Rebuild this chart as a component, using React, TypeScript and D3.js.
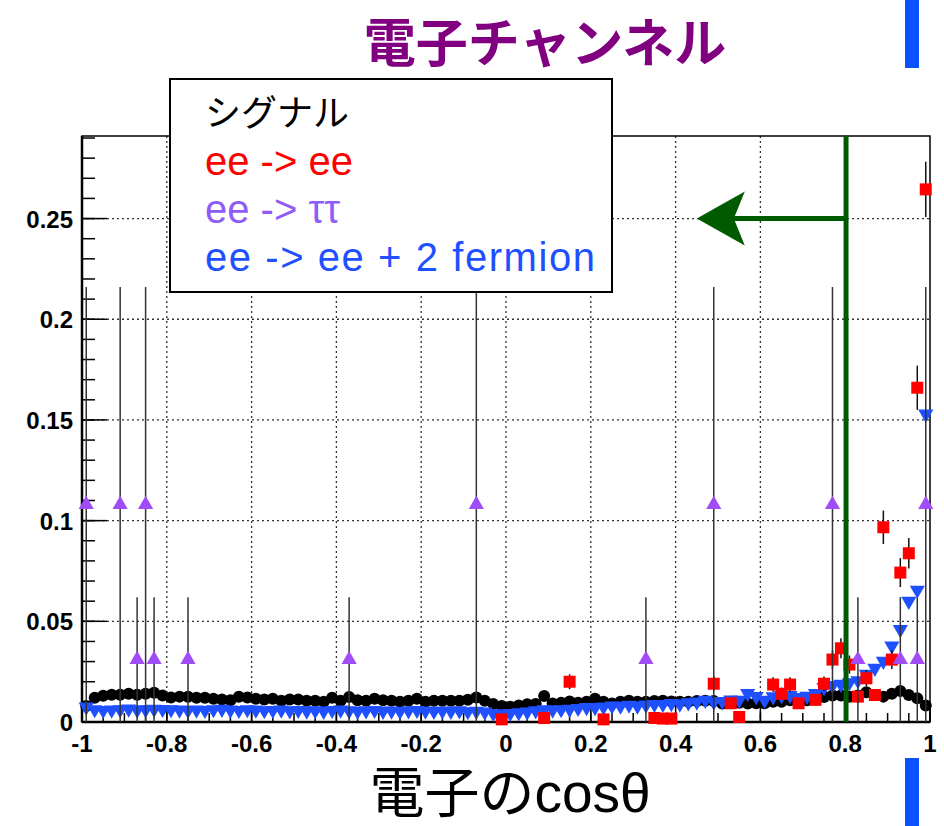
import React from "react";
import * as d3 from "d3";

// Histogram binning: 100 bins over cosθ ∈ [-1, 1]
const BIN_COUNT = 100;
const X_MIN = -1;
const X_MAX = 1;

// Signal (black circles), one value per bin
const signalValues = [
  0.008, 0.012, 0.013, 0.0135, 0.0135, 0.014, 0.0135, 0.014, 0.0145, 0.0132,
  0.0122, 0.0126, 0.0125, 0.012, 0.012, 0.0116, 0.0112, 0.0108, 0.0125, 0.0122,
  0.0116, 0.0112, 0.0116, 0.0106, 0.0112, 0.0112, 0.0105, 0.0105, 0.01, 0.012,
  0.0105, 0.0124, 0.0108, 0.0105, 0.0115, 0.0108, 0.0105, 0.01, 0.0105, 0.0115,
  0.01, 0.0105, 0.0105, 0.0105, 0.0105, 0.011, 0.0122, 0.0105, 0.009, 0.008,
  0.0076, 0.0082, 0.0088, 0.009, 0.0129, 0.0092, 0.0095, 0.0102, 0.0095, 0.01,
  0.0115, 0.01, 0.0092, 0.01, 0.0106, 0.01, 0.01, 0.0104, 0.0106, 0.0102,
  0.01, 0.01, 0.0104, 0.0106, 0.0104, 0.0092, 0.01, 0.0095, 0.0092, 0.0093,
  0.0093, 0.01, 0.01, 0.0108, 0.0102, 0.0108, 0.0116, 0.0124, 0.0132, 0.0132,
  0.0126, 0.0132, 0.0148, 0.0134, 0.0126, 0.014, 0.0154, 0.0134, 0.0118, 0.0082,
];

// ee -> ee + 2 fermion (blue down-triangles), one value per bin
const twoFermionValues = [
  0.0075, 0.0062, 0.0058, 0.006, 0.0062, 0.0065, 0.006, 0.0062, 0.0064, 0.0063,
  0.0062, 0.006, 0.0058, 0.006, 0.0058, 0.0062, 0.0064, 0.006, 0.0058, 0.0062,
  0.006, 0.0057, 0.0058, 0.006, 0.0056, 0.0058, 0.0055, 0.0057, 0.0054, 0.0058,
  0.006, 0.0056, 0.0054, 0.0056, 0.0058, 0.0054, 0.0055, 0.0053, 0.0056, 0.0058,
  0.0055, 0.0053, 0.0055, 0.0054, 0.0056, 0.0052, 0.0054, 0.005, 0.0042, 0.004,
  0.0043, 0.0046, 0.005, 0.0056, 0.0062, 0.006, 0.0062, 0.0064, 0.0068, 0.0072,
  0.0072, 0.0075, 0.008, 0.0079, 0.0084, 0.008, 0.0085, 0.0088, 0.0088, 0.0092,
  0.009, 0.0096, 0.01, 0.0108, 0.01, 0.0102, 0.011, 0.0108, 0.0142, 0.0127,
  0.0108, 0.0126, 0.0132, 0.0132, 0.0122, 0.0128, 0.0142, 0.0172, 0.0182, 0.0188,
  0.0196, 0.0206, 0.0238, 0.0267, 0.0302, 0.0378, 0.046, 0.06, 0.0655, 0.153,
];

// ee -> ee (red squares): filled bins only
const eeCenters = [
  -0.01, 0.09, 0.15, 0.23, 0.35, 0.37, 0.39, 0.49, 0.53, 0.55, 0.63, 0.65, 0.67, 0.69,
  0.73, 0.75, 0.77, 0.79, 0.81, 0.83, 0.85, 0.87, 0.89, 0.91, 0.93, 0.95, 0.97, 0.99,
];
const eeValues = [
  0.0013, 0.002, 0.02, 0.0013, 0.002, 0.0017, 0.0017, 0.019, 0.0093, 0.0025, 0.0186, 0.014,
  0.0186, 0.0093, 0.011, 0.019, 0.031, 0.0366, 0.0285, 0.0126, 0.0217, 0.0134, 0.0967, 0.031,
  0.0742, 0.0838, 0.166, 0.2645,
];
const eeErrors = [
  0.001, 0.0012, 0.0037, 0.001, 0.0012, 0.0011, 0.0011, 0.0036, 0.0025, 0.0013, 0.0036, 0.0031,
  0.0036, 0.0025, 0.0028, 0.0036, 0.0047, 0.005, 0.0045, 0.003, 0.0039, 0.003, 0.0083, 0.0047,
  0.0072, 0.0076, 0.011, 0.0137,
];

// ee -> ττ (violet up-triangles): filled bins only
const tautauCenters = [
  -0.99, -0.91, -0.87, -0.85, -0.83, -0.75, -0.37, -0.07, 0.33, 0.49, 0.77, 0.83, 0.93, 0.97, 0.99,
];
const tautauValues = [
  0.108, 0.108, 0.031, 0.108, 0.031, 0.031, 0.031, 0.108, 0.031, 0.108, 0.108, 0.031, 0.031,
  0.031, 0.108,
];
const tautauErrors = [
  0.108, 0.108, 0.031, 0.108, 0.031, 0.031, 0.031, 0.108, 0.031, 0.108, 0.108, 0.031, 0.031,
  0.031, 0.108,
];

// Axis ticks
const xMajorTicks = [-1, -0.8, -0.6, -0.4, -0.2, 0, 0.2, 0.4, 0.6, 0.8, 1];
const xTickLabels = ["-1", "-0.8", "-0.6", "-0.4", "-0.2", "0", "0.2", "0.4", "0.6", "0.8", "1"];
const yMajorTicks = [0, 0.05, 0.1, 0.15, 0.2, 0.25];
const yTickLabels = ["0", "0.05", "0.1", "0.15", "0.2", "0.25"];
const X_MINOR_STEP = 0.05;
const Y_MINOR_STEP = 0.01;
const Y_MAX = 0.291;

// Selection cut and arrow
const CUT_VALUE = 0.802;
const ARROW_TIP = 0.45;
const ARROW_LEVEL = 0.25;

// Legend entries
const legendTitle = "シグナル";
const legendLabels = ["ee -> ee", "ee -> ττ", "ee -> ee + 2 fermion"];
const legendColors = ["#ff0000", "#8f5cf7", "#1f50ff"];
const legendWidths: (number | undefined)[] = [undefined, undefined, 390];

const TITLE = "電子チャンネル";
const X_TITLE = "電子のcosθ";

const W = 944;
const H = 826;
const M = { left: 82, right: 930, top: 136, bottom: 722 };

const numFont = "'Liberation Sans', Arial, Helvetica, sans-serif";
const cjkFont = "'Noto Sans CJK JP', 'Noto Sans', sans-serif";
const mixedFont = "'Liberation Sans', 'Noto Sans CJK JP', sans-serif";

export default function App() {
  const x = d3.scaleLinear().domain([X_MIN, X_MAX]).range([M.left, M.right]);
  const y = d3.scaleLinear().domain([0, Y_MAX]).range([M.bottom, M.top]);

  const binWidth = (X_MAX - X_MIN) / BIN_COUNT;
  const binCenters = d3.range(BIN_COUNT).map((i) => X_MIN + binWidth * (i + 0.5));

  const xMinor = d3.range(X_MIN, X_MAX + 1e-9, X_MINOR_STEP);
  const yMinor = d3.range(0, Y_MAX, Y_MINOR_STEP);

  const triUp = d3.symbol().type(d3.symbolTriangle).size(100)();
  const gridColor = "#333";

  // Arrow geometry (pixels)
  const ax0 = x(CUT_VALUE);
  const ax1 = x(ARROW_TIP);
  const ay = y(ARROW_LEVEL);
  const headLen = 48;
  const headHalf = 27;
  const notch = 11;
  const arrowHead = d3.path();
  arrowHead.moveTo(ax1, ay);
  arrowHead.lineTo(ax1 + headLen, ay - headHalf);
  arrowHead.lineTo(ax1 + headLen - notch, ay);
  arrowHead.lineTo(ax1 + headLen, ay + headHalf);
  arrowHead.closePath();

  return (
    <svg
      width={W}
      height={H}
      viewBox={`0 0 ${W} ${H}`}
      style={{ position: "absolute", left: 0, top: 0, background: "#fff" }}
    >
      <rect x={0} y={0} width={W} height={H} fill="#fff" />

      {/* side bars */}
      <rect x={905} y={0} width={14} height={68} fill="#0a50ff" />
      <rect x={905} y={758} width={14} height={68} fill="#0a50ff" />

      {/* title */}
      <text
        x={545}
        y={62}
        textAnchor="middle"
        fontFamily={mixedFont}
        fontWeight={700}
        fontSize={52}
        fill="#800080"
      >
        {TITLE}
      </text>

      {/* grid */}
      <g stroke={gridColor} strokeWidth={1.3} strokeDasharray="2,3">
        {xMajorTicks
          .filter((t) => t > X_MIN && t < X_MAX)
          .map((t) => (
            <line key={`gx${t}`} x1={x(t)} x2={x(t)} y1={M.top} y2={M.bottom} />
          ))}
        {yMajorTicks
          .filter((t) => t > 0)
          .map((t) => (
            <line key={`gy${t}`} x1={M.left} x2={M.right} y1={y(t)} y2={y(t)} />
          ))}
      </g>

      {/* frame */}
      <rect
        x={M.left}
        y={M.top}
        width={M.right - M.left}
        height={M.bottom - M.top}
        fill="none"
        stroke="#000"
        strokeWidth={1.5}
      />
      <line x1={M.left} x2={M.left} y1={M.top} y2={M.bottom} stroke="#000" strokeWidth={2.5} />
      <line x1={M.left} x2={M.right} y1={M.bottom} y2={M.bottom} stroke="#000" strokeWidth={2.5} />

      {/* y ticks */}
      <g stroke="#000" strokeWidth={1.5}>
        {yMinor.map((t, i) => (
          <line key={`ym${i}`} x1={M.left} x2={M.left + 13} y1={y(t)} y2={y(t)} />
        ))}
        {yMajorTicks.map((t) => (
          <line key={`yM${t}`} x1={M.left} x2={M.left + 25} y1={y(t)} y2={y(t)} />
        ))}
      </g>
      {/* x ticks */}
      <g stroke="#000" strokeWidth={1.5}>
        {xMinor.map((t, i) => (
          <line key={`xm${i}`} x1={x(t)} x2={x(t)} y1={M.bottom} y2={M.bottom - 9} />
        ))}
        {xMajorTicks.map((t) => (
          <line key={`xM${t}`} x1={x(t)} x2={x(t)} y1={M.bottom} y2={M.bottom - 17} />
        ))}
      </g>

      {/* tick labels */}
      <g fontFamily={numFont} fontWeight={700} fontSize={24} fill="#000">
        {yMajorTicks.map((t, i) => (
          <text key={`yl${t}`} x={73} y={y(t) + 9} textAnchor="end">
            {yTickLabels[i]}
          </text>
        ))}
        {xMajorTicks.map((t, i) => (
          <text key={`xl${t}`} x={x(t)} y={752} textAnchor="middle">
            {xTickLabels[i]}
          </text>
        ))}
      </g>

      {/* x axis title */}
      <text x={510} y={812} textAnchor="middle" fontFamily={mixedFont} fontSize={55} fill="#000">
        {X_TITLE}
      </text>

      {/* signal */}
      <g fill="#000">
        {signalValues.map((v, i) => (
          <circle key={`s${i}`} cx={x(binCenters[i])} cy={y(v)} r={6} />
        ))}
      </g>

      {/* ee -> ee + 2 fermion */}
      <g fill="#1f50ff">
        {twoFermionValues.map((v, i) => (
          <path
            key={`f${i}`}
            d={triUp}
            transform={`translate(${x(binCenters[i])},${y(v)}) rotate(180)`}
          />
        ))}
      </g>

      {/* ee -> ee */}
      <g>
        {eeCenters.map((c, i) => (
          <line
            key={`ee${i}`}
            x1={x(c)}
            x2={x(c)}
            y1={y(Math.max(0, eeValues[i] - eeErrors[i]))}
            y2={y(eeValues[i] + eeErrors[i])}
            stroke="#111"
            strokeWidth={1.5}
          />
        ))}
        {eeCenters.map((c, i) => (
          <rect
            key={`eer${i}`}
            x={x(c) - 6}
            y={y(eeValues[i]) - 6}
            width={12}
            height={12}
            fill="#ff0000"
          />
        ))}
      </g>

      {/* ee -> ττ */}
      <g>
        {tautauCenters.map((c, i) => (
          <line
            key={`tt${i}`}
            x1={x(c)}
            x2={x(c)}
            y1={y(Math.max(0, tautauValues[i] - tautauErrors[i]))}
            y2={y(tautauValues[i] + tautauErrors[i])}
            stroke="#333"
            strokeWidth={1.5}
          />
        ))}
        {tautauCenters.map((c, i) => (
          <path
            key={`ttm${i}`}
            d={triUp}
            transform={`translate(${x(c)},${y(tautauValues[i])})`}
            fill="#a04cf7"
          />
        ))}
      </g>

      {/* cut line and arrow */}
      <line
        x1={x(CUT_VALUE)}
        x2={x(CUT_VALUE)}
        y1={M.top}
        y2={M.bottom}
        stroke="#005a00"
        strokeWidth={5}
      />
      <line
        x1={ax0}
        x2={ax1 + headLen - notch}
        y1={ay}
        y2={ay}
        stroke="#005a00"
        strokeWidth={5}
      />
      <path d={arrowHead.toString()} fill="#005a00" />

      {/* legend */}
      <rect x={170} y={79} width={442} height={213} fill="#fff" stroke="#000" strokeWidth={2} />
      <text x={205} y={126} fontFamily={cjkFont} fontSize={36} fill="#000">
        {legendTitle}
      </text>
      {legendLabels.map((label, i) => (
        <text
          key={label}
          x={205}
          y={175 + i * 48}
          fontFamily={numFont}
          fontSize={40}
          fill={legendColors[i]}
          textLength={legendWidths[i]}
          lengthAdjust={legendWidths[i] ? "spacing" : undefined}
        >
          {label}
        </text>
      ))}
    </svg>
  );
}
